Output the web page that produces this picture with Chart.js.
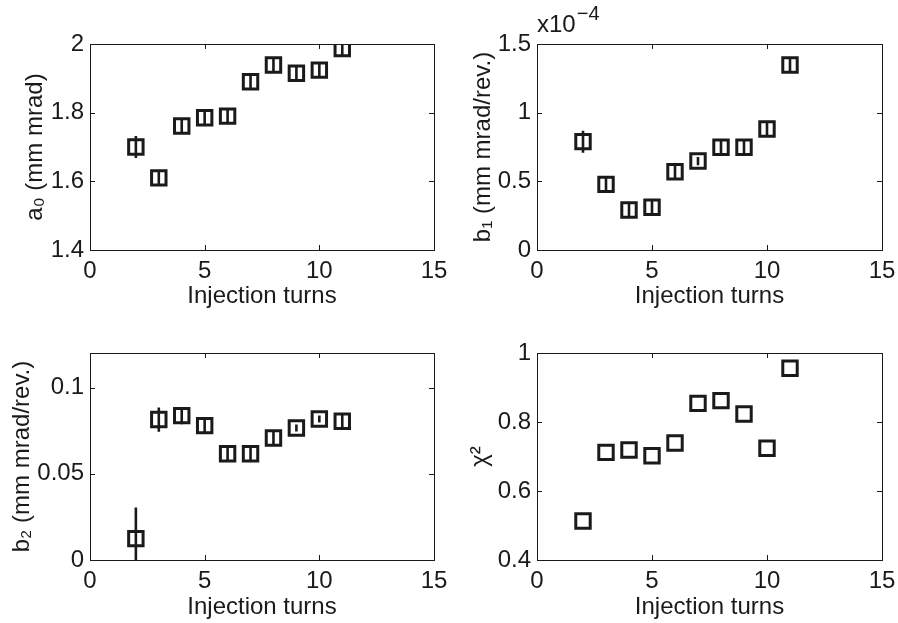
<!DOCTYPE html>
<html>
<head>
<meta charset="utf-8">
<script src="https://cdn.jsdelivr.net/npm/chart.js@4.4.1/dist/chart.umd.min.js"></script>
<style>
  body { margin: 0; background: #fff; }
  .cell { position: absolute; }
</style>
</head>
<body>
<div class="cell" style="left:0;top:0;width:449px;height:311px"><canvas id="c0"></canvas></div>
<div class="cell" style="left:449px;top:0;width:449px;height:311px"><canvas id="c1"></canvas></div>
<div class="cell" style="left:0;top:311px;width:449px;height:312px"><canvas id="c2"></canvas></div>
<div class="cell" style="left:449px;top:311px;width:449px;height:312px"><canvas id="c3"></canvas></div>
<script>
// injection turns
var turns = [2, 3, 4, 5, 6, 7, 8, 9, 10, 11];
var xTicks = [0, 5, 10, 15];

var a0 = [1.70, 1.61, 1.761, 1.785, 1.79, 1.89, 1.939, 1.915, 1.924, 1.987];
var a0Err = [0.032, 0.02, 0.02, 0.02, 0.02, 0.02, 0.02, 0.02, 0.02, 0.02];
var a0Ticks = [1.4, 1.6, 1.8, 2];

// b1 in units of 1e-4
var b1 = [0.789, 0.478, 0.291, 0.311, 0.57, 0.648, 0.748, 0.748, 0.881, 1.347];
var b1Err = [0.08, 0.05, 0.05, 0.05, 0.05, 0.03, 0.05, 0.05, 0.05, 0.05];
var b1Ticks = [0, 0.5, 1, 1.5];

var b2 = [0.0124, 0.0814, 0.0837, 0.0779, 0.0616, 0.0616, 0.0707, 0.0765, 0.0817, 0.0804];
var b2Err = [0.018, 0.007, 0.005, 0.004, 0.004, 0.004, 0.004, 0.002, 0.002, 0.004];
var b2Ticks = [0, 0.05, 0.1];

var chi2 = [0.513, 0.712, 0.719, 0.702, 0.739, 0.854, 0.862, 0.823, 0.724, 0.956];
var chi2Ticks = [0.4, 0.6, 0.8, 1];

var FONT = '"Liberation Sans", Arial, Helvetica, sans-serif';
var INK = '#1a1a1a';

// box around the plot with inward ticks, like matlab
var boxPlugin = {
    id: 'box',
    afterDraw: function(chart) {
        var ctx = chart.ctx, a = chart.chartArea;
        var xs = chart.scales.x, ys = chart.scales.y;
        ctx.save();
        ctx.strokeStyle = INK;
        ctx.lineWidth = 1;
        ctx.strokeRect(Math.round(a.left) + 0.5, Math.round(a.top) + 0.5, Math.round(a.right - a.left), Math.round(a.bottom - a.top));
        ctx.beginPath();
        xs.ticks.forEach(function(t) {
            var px = Math.round(xs.getPixelForValue(t.value)) + 0.5;
            ctx.moveTo(px, a.bottom); ctx.lineTo(px, a.bottom - 5);
            ctx.moveTo(px, a.top); ctx.lineTo(px, a.top + 5);
        });
        ys.ticks.forEach(function(t) {
            var py = Math.round(ys.getPixelForValue(t.value)) + 0.5;
            ctx.moveTo(a.left, py); ctx.lineTo(a.left + 5, py);
            ctx.moveTo(a.right, py); ctx.lineTo(a.right - 5, py);
        });
        ctx.stroke();
        var ex = chart.options.plugins.box.exponent;
        if (ex) {
            ctx.fillStyle = INK;
            ctx.textBaseline = 'alphabetic';
            ctx.font = '24px ' + FONT;
            ctx.fillText('x10', a.left, 32);
            var w = ctx.measureText('x10').width;
            ctx.font = '20px ' + FONT;
            ctx.fillText(ex, a.left + w + 1, 20);
        }
        ctx.restore();
    }
};

// vertical error bars drawn over the open squares
var errPlugin = {
    id: 'errbars',
    afterDatasetsDraw: function(chart) {
        var err = chart.options.plugins.errbars.values;
        if (!err) return;
        var ctx = chart.ctx, a = chart.chartArea;
        var xs = chart.scales.x, ys = chart.scales.y;
        var ds = chart.data.datasets[0].data;
        ctx.save();
        ctx.beginPath();
        ctx.rect(a.left, a.top, a.right - a.left, a.bottom - a.top);
        ctx.clip();
        ctx.strokeStyle = INK;
        ctx.lineWidth = 2.6;
        ctx.beginPath();
        ds.forEach(function(p, i) {
            var px = xs.getPixelForValue(p.x);
            ctx.moveTo(px, ys.getPixelForValue(p.y - err[i]));
            ctx.lineTo(px, ys.getPixelForValue(p.y + err[i]));
        });
        ctx.stroke();
        ctx.restore();
    }
};

var makePlot = function(id, vals, err, yTicks, yMin, yMax, yLabel, cfg) {
    var pts = turns.map(function(t, i) { return { x: t, y: vals[i] }; });
    return new Chart(document.getElementById(id), {
        type: 'scatter',
        data: {
            datasets: [{
                data: pts,
                pointStyle: 'rect',
                pointRadius: 10.2,
                pointHoverRadius: 10.2,
                borderWidth: 3,
                pointBorderWidth: 3,
                borderColor: INK,
                backgroundColor: '#ffffff'
            }]
        },
        plugins: [errPlugin, boxPlugin],
        options: {
            responsive: true,
            maintainAspectRatio: false,
            animation: false,
            events: [],
            layout: { padding: { top: cfg.top, right: cfg.right, left: 0, bottom: 0 } },
            plugins: {
                legend: { display: false },
                tooltip: { enabled: false },
                errbars: { values: err },
                box: { exponent: cfg.exponent }
            },
            scales: {
                x: {
                    type: 'linear',
                    min: 0, max: 15,
                    grid: { display: false, drawTicks: false },
                    border: { display: false },
                    afterBuildTicks: function(s) { s.ticks = xTicks.map(function(v) { return { value: v }; }); },
                    afterFit: function(s) { s.height = cfg.xh; s.paddingLeft = 0; s.paddingRight = 0; },
                    ticks: {
                        color: INK, padding: 7, maxRotation: 0,
                        font: { family: FONT, size: 24 },
                        callback: function(v) { return String(v); }
                    },
                    title: {
                        display: true, text: 'Injection turns', color: INK,
                        font: { family: FONT, size: 24 },
                        padding: { top: 0, bottom: cfg.xtp }
                    }
                },
                y: {
                    type: 'linear',
                    min: yMin, max: yMax,
                    grid: { display: false, drawTicks: false },
                    border: { display: false },
                    afterBuildTicks: function(s) { s.ticks = yTicks.map(function(v) { return { value: v }; }); },
                    afterFit: function(s) { s.width = cfg.yw; s.paddingTop = 0; s.paddingBottom = 0; },
                    ticks: {
                        color: INK, padding: 6,
                        font: { family: FONT, size: 24 },
                        callback: function(v) { return String(v); }
                    },
                    title: {
                        display: true, text: yLabel, color: INK,
                        font: { family: FONT, size: 24 },
                        padding: { top: cfg.ytp, bottom: 0 }
                    }
                }
            }
        }
    });
};

makePlot('c0', a0, a0Err, a0Ticks, 1.4, 2, 'a\u2080 (mm mrad)', { top: 44, right: 15, xh: 61, yw: 90, xtp: 0, ytp: 21 });
makePlot('c1', b1, b1Err, b1Ticks, 0, 1.5, 'b\u2081 (mm mrad/rev.)', { top: 44, right: 16, xh: 61, yw: 88, xtp: 0, ytp: 20, exponent: '\u22124' });
makePlot('c2', b2, b2Err, b2Ticks, 0, 0.12, 'b\u2082 (mm mrad/rev.)', { top: 42, right: 15, xh: 63, yw: 90, xtp: 1, ytp: 8 });
makePlot('c3', chi2, null, chi2Ticks, 0.4, 1, '\u03c7\u00b2', { top: 42, right: 16, xh: 63, yw: 88, xtp: 1, ytp: 17 });
</script>
</body>
</html>
